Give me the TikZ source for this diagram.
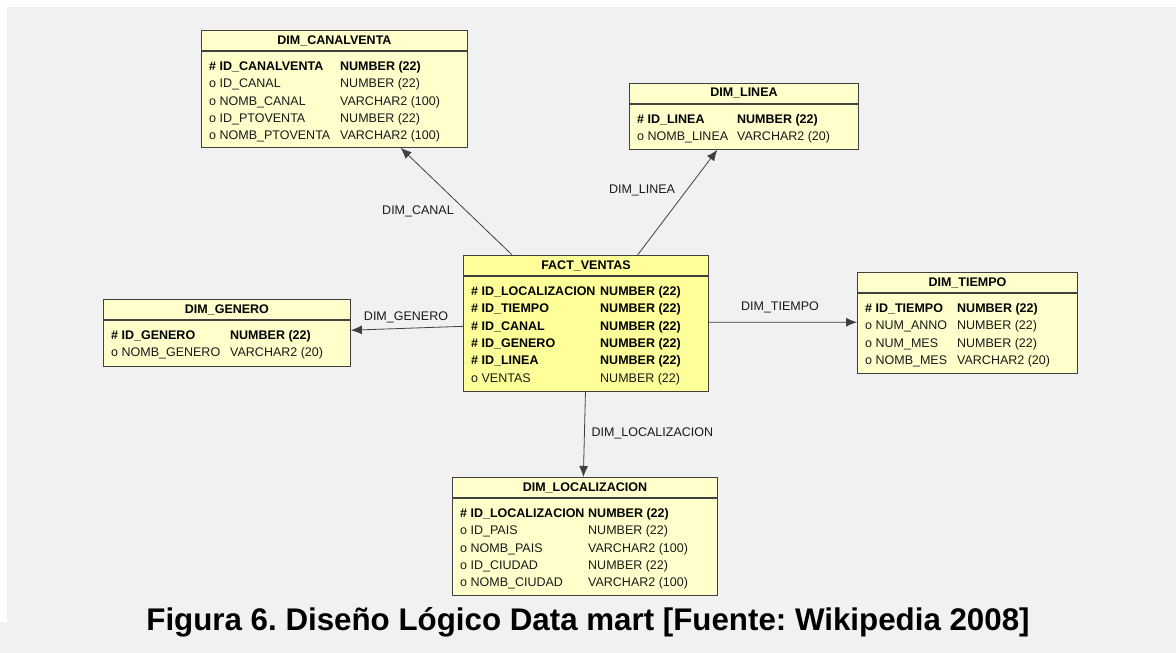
\documentclass[tikz,border=0pt]{standalone}
\usepackage{fontspec}
\setmainfont{Liberation Sans}
\usetikzlibrary{positioning,calc,arrows.meta}

\definecolor{bggray}{HTML}{F1F1F1}
\definecolor{dimfill}{HTML}{FFFFCC}
\definecolor{factfill}{HTML}{FFFF99}
\definecolor{edgegray}{HTML}{404040}
\newcommand\diagfont{\fontsize{12.5pt}{15pt}\selectfont}

\begin{document}
\frenchspacing
\begin{tikzpicture}[x=1pt,y=-1pt,
    header/.style={draw=edgegray, line width=0.9pt, fill=dimfill, inner sep=0pt,
        minimum height=20pt, anchor=north west, font=\diagfont\bfseries},
    entity/.style={draw=edgegray, line width=0.9pt, fill=dimfill, inner sep=0pt},
    facthead/.style={header, fill=factfill},
    factbody/.style={entity, fill=factfill},
    row/.style={anchor=base west, inner sep=0pt},
    pk/.style={font=\diagfont\bfseries, text=black},
    att/.style={font=\diagfont, text=black!90},
    fk/.style={draw=black!75, line width=0.8pt, -{Latex[length=11pt,width=9pt]}},
    fklabel/.style={font=\diagfont, text=black!90}]

    % Background and margins
    \useasboundingbox (0,0) rectangle (1176,653);
    \fill[white] (0,0) rectangle (1176,653);
    \fill[bggray] (7,7) rectangle (1176,622);
    \fill[bggray] (0,622) rectangle (1176,653);

    % Define the tables
    \node[header, minimum width=266pt] (canal-head) at (201,30) {DIM\_CANALVENTA};
    \node[entity, minimum width=266pt, minimum height=96pt, below=0pt of canal-head] (canal) {};
    \node[header, minimum width=229pt] (linea-head) at (629,83) {DIM\_LINEA};
    \node[entity, minimum width=229pt, minimum height=45pt, below=0pt of linea-head] (linea) {};
    \node[facthead, minimum width=245pt] (fact-head) at (463,255) {FACT\_VENTAS};
    \node[factbody, minimum width=245pt, minimum height=115pt, below=0pt of fact-head] (fact) {};
    \node[header, minimum width=247pt] (genero-head) at (103,299) {DIM\_GENERO};
    \node[entity, minimum width=247pt, minimum height=46pt, below=0pt of genero-head] (genero) {};
    \node[header, minimum width=220pt] (tiempo-head) at (857,272) {DIM\_TIEMPO};
    \node[entity, minimum width=220pt, minimum height=80pt, below=0pt of tiempo-head] (tiempo) {};
    \node[header, minimum width=265pt] (local-head) at (452,477) {DIM\_LOCALIZACION};
    \node[entity, minimum width=265pt, minimum height=97pt, below=0pt of local-head] (local) {};

    % Fill in the columns
    \foreach \sty/\sym/\nm/\ty [count=\i] in {pk/\#/ID\_CANALVENTA/NUMBER (22),
        att/o/ID\_CANAL/NUMBER (22), att/o/NOMB\_CANAL/VARCHAR2 (100),
        att/o/ID\_PTOVENTA/NUMBER (22), att/o/NOMB\_PTOVENTA/VARCHAR2 (100)}
        \node[row, \sty] (canal-\i) at ($(canal.north west)+(8,2+17.4*\i)$) {\makebox[131pt][l]{\sym\ \nm}\ty};
    \foreach \sty/\sym/\nm/\ty [count=\i] in {pk/\#/ID\_LINEA/NUMBER (22),
        att/o/NOMB\_LINEA/VARCHAR2 (20)}
        \node[row, \sty] (linea-\i) at ($(linea.north west)+(8,2+17.4*\i)$) {\makebox[100pt][l]{\sym\ \nm}\ty};
    \foreach \sty/\sym/\nm/\ty [count=\i] in {pk/\#/ID\_LOCALIZACION/NUMBER (22),
        pk/\#/ID\_TIEMPO/NUMBER (22), pk/\#/ID\_CANAL/NUMBER (22),
        pk/\#/ID\_GENERO/NUMBER (22), pk/\#/ID\_LINEA/NUMBER (22),
        att/o/VENTAS/NUMBER (22)}
        \node[row, \sty] (fact-\i) at ($(fact.north west)+(8,2+17.4*\i)$) {\makebox[129pt][l]{\sym\ \nm}\ty};
    \foreach \sty/\sym/\nm/\ty [count=\i] in {pk/\#/ID\_GENERO/NUMBER (22),
        att/o/NOMB\_GENERO/VARCHAR2 (20)}
        \node[row, \sty] (genero-\i) at ($(genero.north west)+(8,2+17.4*\i)$) {\makebox[119pt][l]{\sym\ \nm}\ty};
    \foreach \sty/\sym/\nm/\ty [count=\i] in {pk/\#/ID\_TIEMPO/NUMBER (22),
        att/o/NUM\_ANNO/NUMBER (22), att/o/NUM\_MES/NUMBER (22),
        att/o/NOMB\_MES/VARCHAR2 (20)}
        \node[row, \sty] (tiempo-\i) at ($(tiempo.north west)+(8,2+17.4*\i)$) {\makebox[92pt][l]{\sym\ \nm}\ty};
    \foreach \sty/\sym/\nm/\ty [count=\i] in {pk/\#/ID\_LOCALIZACION/NUMBER (22),
        att/o/ID\_PAIS/NUMBER (22), att/o/NOMB\_PAIS/VARCHAR2 (100),
        att/o/ID\_CIUDAD/NUMBER (22), att/o/NOMB\_CIUDAD/VARCHAR2 (100)}
        \node[row, \sty] (local-\i) at ($(local.north west)+(8,2+17.4*\i)$) {\makebox[128pt][l]{\sym\ \nm}\ty};

    % Draw the foreign keys
    \draw[fk] ($(fact-head.north west)!0.2!(fact-head.north east)$) -- ($(canal.south west)!0.748!(canal.south east)$);
    \draw[fk] ($(fact-head.north west)!0.71!(fact-head.north east)$) -- ($(linea.south west)!0.384!(linea.south east)$);
    \draw[fk] ($(fact.north west)!0.435!(fact.south west)$) -- ($(genero.north east)!0.22!(genero.south east)$);
    \draw[fk] ($(fact.north east)!0.4!(fact.south east)$) -- ($(tiempo.north west)!0.3625!(tiempo.south west)$);
    \draw[fk] ($(fact.south west)!0.498!(fact.south east)$) -- ($(local-head.north west)!0.494!(local-head.north east)$);

    % Place the key labels
    \node[fklabel] (canal-fk) at (418,211) {DIM\_CANAL};
    \node[fklabel] (linea-fk) at (642,190) {DIM\_LINEA};
    \node[fklabel] (genero-fk) at (406,317) {DIM\_GENERO};
    \node[fklabel] (tiempo-fk) at (780,307) {DIM\_TIEMPO};
    \node[fklabel, anchor=west] (local-fk) at (588,433) {DIM\_LOCALIZACION};

    % Caption
    \node[anchor=base, font=\fontsize{31.3pt}{36pt}\selectfont\bfseries] (caption) at (588,630)
        {Figura 6. Diseño Lógico Data mart [Fuente: Wikipedia 2008]};

\end{tikzpicture}
\end{document}
